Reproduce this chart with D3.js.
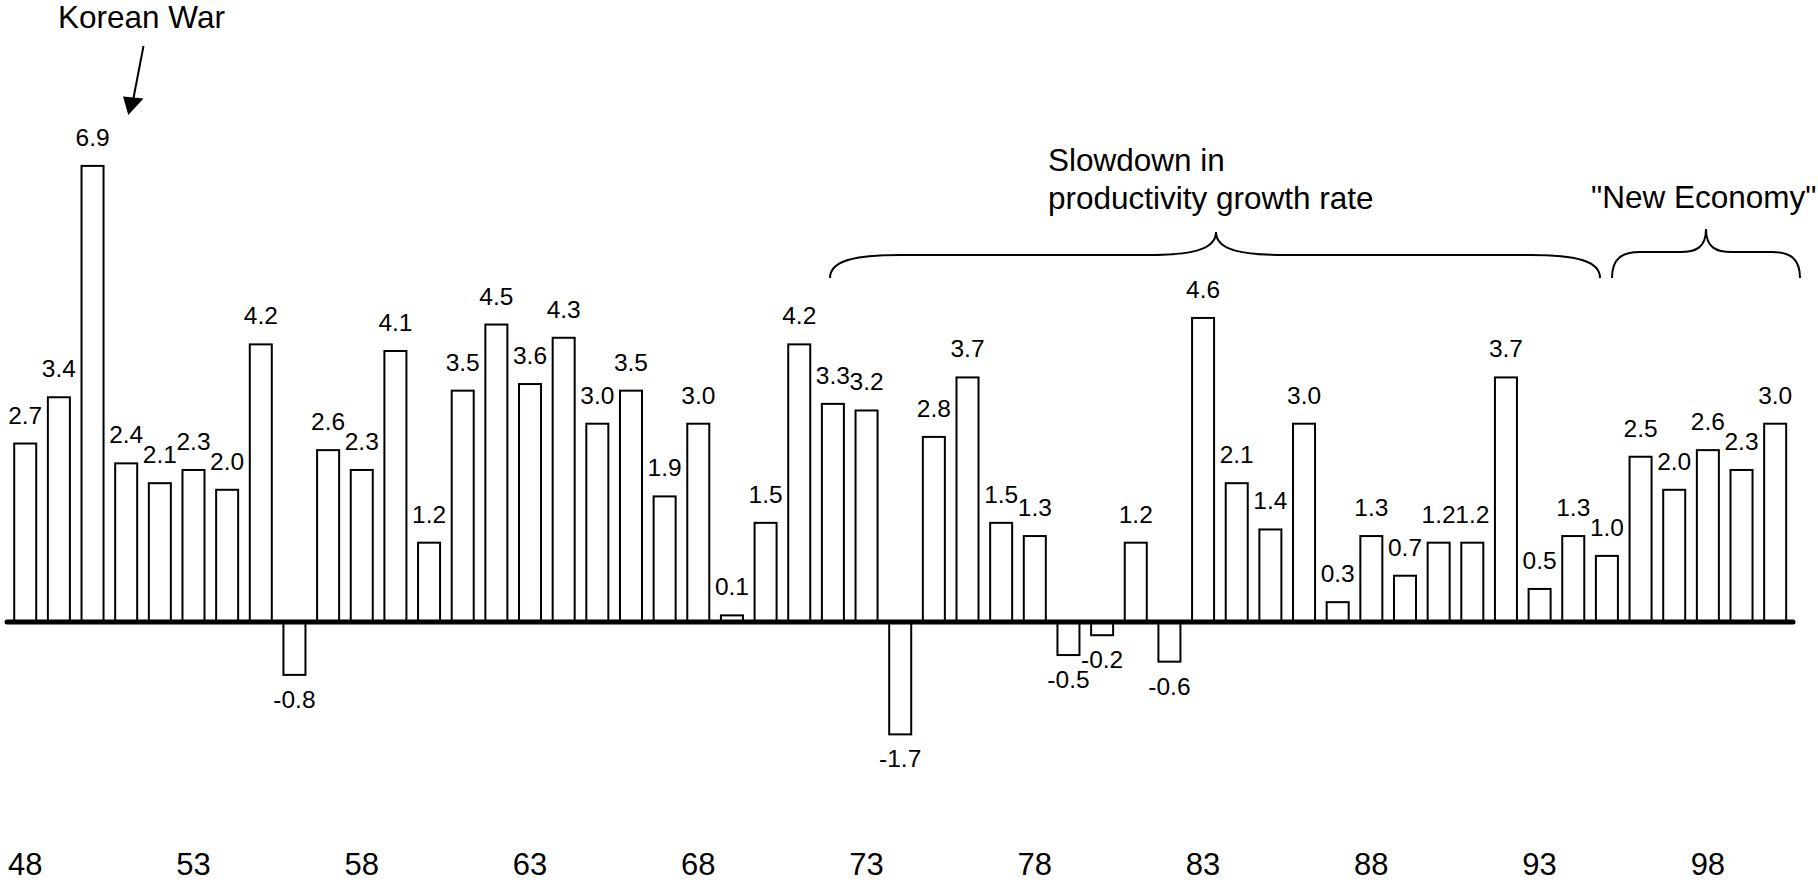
<!DOCTYPE html>
<html>
<head>
<meta charset="utf-8">
<script src="https://cdn.jsdelivr.net/npm/d3@7/dist/d3.min.js"></script>
<style>
  html, body { margin: 0; padding: 0; background: #fff; }
  svg { display: block; }
  text { font-family: "Liberation Sans", Arial, Helvetica, sans-serif; fill: #000; }
</style>
</head>
<body>
<svg id="chart" width="1818" height="882"></svg>
<script>
// Annual growth rate of labour productivity, 1948-2000 (percent)
const years = d3.range(1948, 2001);
const growth = [
  2.7, 3.4, 6.9, 2.4, 2.1, 2.3, 2.0, 4.2, -0.8, 2.6,
  2.3, 4.1, 1.2, 3.5, 4.5, 3.6, 4.3, 3.0, 3.5, 1.9,
  3.0, 0.1, 1.5, 4.2, 3.3, 3.2, -1.7, 2.8, 3.7, 1.5,
  1.3, -0.5, -0.2, 1.2, -0.6, 4.6, 2.1, 1.4, 3.0, 0.3,
  1.3, 0.7, 1.2, 1.2, 3.7, 0.5, 1.3, 1.0, 2.5, 2.0,
  2.6, 2.3, 3.0
];
const tickYears = [1948, 1953, 1958, 1963, 1968, 1973, 1978, 1983, 1988, 1993, 1998];

const data = years.map((y, i) => ({ year: y, value: growth[i] }));

const svg = d3.select("#chart");

const x = d3.scaleBand()
  .domain(years)
  .range([8.4, 1792])
  .paddingInner(0.346)
  .paddingOuter(0.173);

const y = d3.scaleLinear()
  .domain([-3, 7])
  .range([820.3, 159.3]);

// bars
svg.append("g")
  .selectAll("rect")
  .data(data)
  .join("rect")
  .attr("x", d => x(d.year))
  .attr("width", x.bandwidth())
  .attr("y", d => y(Math.max(0, d.value)))
  .attr("height", d => Math.abs(y(d.value) - y(0)))
  .attr("fill", "#fff")
  .attr("stroke", "#000")
  .attr("stroke-width", 2);

// zero line
svg.append("line")
  .attr("x1", 7).attr("x2", 1793)
  .attr("y1", y(0)).attr("y2", y(0))
  .attr("stroke", "#000")
  .attr("stroke-width", 5)
  .attr("stroke-linecap", "round");

// value labels
svg.append("g")
  .selectAll("text")
  .data(data)
  .join("text")
  .attr("x", d => x(d.year) + x.bandwidth() / 2)
  .attr("y", d => d.value >= 0 ? y(d.value) - 20 : y(d.value) + 33)
  .attr("text-anchor", "middle")
  .attr("font-size", 24.5)
  .text(d => d.value.toFixed(1));

// year axis
const axis = d3.axisBottom(x)
  .tickValues(tickYears)
  .tickSize(0)
  .tickPadding(0)
  .tickFormat(d => String(d % 100).padStart(2, "0"));

const gx = svg.append("g")
  .attr("transform", "translate(0,853)")
  .call(axis);
gx.select(".domain").remove();
gx.selectAll("text")
  .attr("font-size", 31)
  .attr("font-family", "Liberation Sans, Arial, sans-serif")
  .attr("fill", "#000");

// annotations
const ann = svg.append("g").attr("font-size", 31.5);

ann.append("text").attr("x", 58).attr("y", 28).text("Korean War");

// arrow pointing to the 1950 bar
ann.append("line")
  .attr("x1", 143.5).attr("y1", 46)
  .attr("x2", 133.5).attr("y2", 98)
  .attr("stroke", "#000").attr("stroke-width", 2);
ann.append("path")
  .attr("d", "M128.3,115 L123,96.5 L143.5,98.5 Z")
  .attr("fill", "#000");

const slow = ann.append("text").attr("x", 1048);
slow.append("tspan").attr("x", 1048).attr("y", 170.5).text("Slowdown in");
slow.append("tspan").attr("x", 1048).attr("y", 209).text("productivity growth rate");

ann.append("text").attr("x", 1591).attr("y", 208).text("\"New Economy\"");

// curly braces
function brace(x0, x1, xm, yh, yb, yt, rc, rm) {
  return `M${x0},${yb}` +
    ` C${x0},${yh + (yb - yh) * 0.25} ${x0 + rc * 0.35},${yh} ${x0 + rc},${yh}` +
    ` L${xm - rm},${yh}` +
    ` C${xm - rm * 0.4},${yh} ${xm},${yh - 4} ${xm},${yt}` +
    ` C${xm},${yh - 4} ${xm + rm * 0.4},${yh} ${xm + rm},${yh}` +
    ` L${x1 - rc},${yh}` +
    ` C${x1 - rc * 0.35},${yh} ${x1},${yh + (yb - yh) * 0.25} ${x1},${yb}`;
}

ann.append("path")
  .attr("d", brace(830, 1600, 1216, 255, 278, 232, 70, 70))
  .attr("fill", "none").attr("stroke", "#000").attr("stroke-width", 2);

ann.append("path")
  .attr("d", brace(1612, 1800, 1706, 252, 278, 229, 28, 26))
  .attr("fill", "none").attr("stroke", "#000").attr("stroke-width", 2);
</script>
</body>
</html>
